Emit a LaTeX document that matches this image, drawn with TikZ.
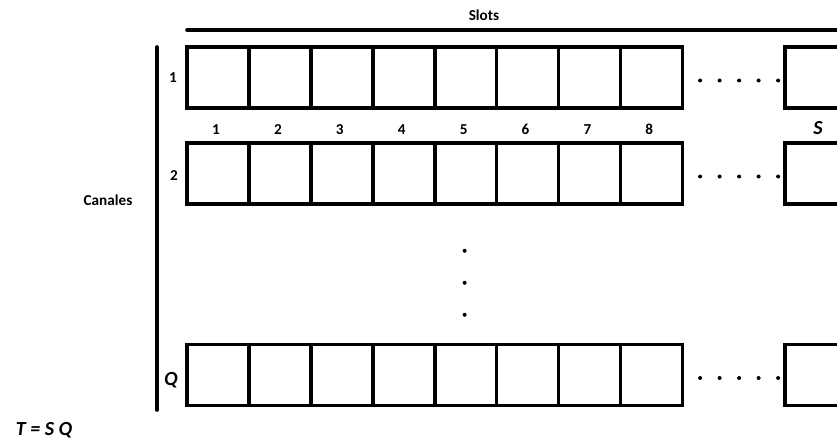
\documentclass[tikz,border=0pt]{standalone}
\usepackage{fontspec}
\setmainfont{Carlito}
\usetikzlibrary{positioning,calc}

\tikzset{
  cell/.style={draw,line width=3.6pt,minimum width=62pt,minimum height=61pt,inner sep=0pt},
  lbl/.style={font=\bfseries\fontsize{15.2}{17}\selectfont,inner sep=1pt},
  biglbl/.style={font=\bfseries\itshape\fontsize{20}{23}\selectfont,inner sep=1pt},
  rule/.style={line width=3.6pt}
}

\begin{document}
\begin{tikzpicture}[x=1pt,y=-1pt]
  \clip (0,0) rectangle (837,441);
  % rows of slots
  \foreach \r/\yc in {1/77.5,2/173.5,q/375}{
    \foreach \i in {1,...,8}
      \node[cell] (c\r-\i) at ({218+61.9*(\i-1)},\yc) {};
    \node[cell] (c\r-s) at (816,\yc) {};
    \foreach \k in {0,...,4}
      \fill ($(c\r-8.east)+({16+19.5*\k},3)$) circle(2pt);
  }
  % slot numbers
  \foreach \i in {1,...,8}
    \node[lbl] (n\i) at ($(c1-\i.south)+(-2,20)$) {\i};
  \node[biglbl] (ns) at ($(c1-s.south)+(2,18)$) {S};
  % channel numbers
  \node[lbl] (r1) at (173,78) {1};
  \node[lbl] (r2) at (174,176) {2};
  \node[biglbl] (rq) at (171,380) {Q};
  \foreach \k in {0,1,2}
    \fill ($(c2-5.south)+(-1,{45+32*\k})$) circle(2pt);
  % brackets
  \coordinate (stl) at (187,30);
  \coordinate (str) at (837,30);
  \coordinate (ctop) at (157,47);
  \coordinate (cbot) at (157,410);
  \draw[rule,line cap=round] (stl) -- (str);
  \draw[rule,line cap=round] (ctop) -- (cbot);
  \node[lbl] (slots) at (484,15) {Slots};
  \node[lbl] (canales) at (108,200) {Canales};
  \node[biglbl] (total) at (44,430) {T = S Q};
\end{tikzpicture}
\end{document}
